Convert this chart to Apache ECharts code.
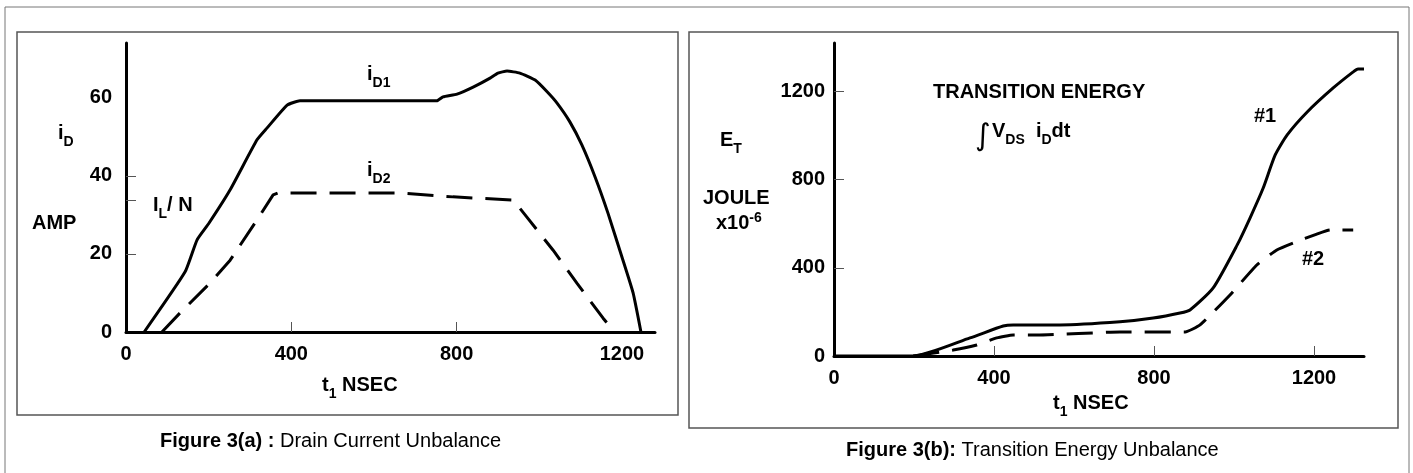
<!DOCTYPE html>
<html>
<head>
<meta charset="utf-8">
<script src="https://cdn.jsdelivr.net/npm/echarts@6/dist/echarts.min.js"></script>
<style>
html,body{margin:0;padding:0;background:#fff;}
#chart{width:1413px;height:473px;}
</style>
</head>
<body>
<div id="chart"></div>
<script>
// Figure 3(a): drain currents (A) against t1 (ns)
var tD1 = [44,143,172,201,252,317,341,390,421,752,767,801,840,881,900,922,953,990,1019,1043,1074,1103,1135,1166,1200,1227,1246];
var iD1 = [0,15.4,23.6,27.9,36.4,49.2,52.2,58.1,59.2,59.2,60.2,60.9,62.7,65.0,66.3,66.8,66.3,64.5,61.5,58.6,53.8,47.9,39.7,30.5,19.2,10.0,0];
var tD2 = [87,131,203,252,317,356,368,663,791,937,970,1033,1091,1154,1178];
var iD2 = [0,4.9,12.5,18.4,28.7,35.1,35.6,35.6,34.6,33.8,29.4,21.0,12.5,3.6,0.5];
// Figure 3(b): transition energy (joule x10^-6) against t1 (ns)
var tE1 = [0,198,340,423,448,565,715,798,865,890,948,1008,1040,1073,1103,1133,1183,1248,1298,1310,1325];
var e1  = [0,0,82,136,141,141,155,172,195,209,309,504,626,762,912,1003,1107,1216,1289,1302,1302];
var tE2 = [198,298,357,407,448,507,715,878,915,990,1057,1107,1148,1207,1240,1298];
var e2  = [0,27,50,82,95,95,109,109,141,277,413,481,513,553,572,572];
// axis marks
var xLabelsA = [0,400,800,1200];
var xTicksA = [400,800];
var yLabelsA = [0,20,40,60];
var yTicksA = [20,33.8,40];
var xLabelsB = [0,400,800,1200];
var xTicksB = [400,800,1200];
var yLabelsB = [0,400,800,1200];
var yTicksB = [400,800,1200];

var F = 'Liberation Sans';
var DASH = [26,13];

function pairs(xs, ys){
    var out = [];
    for(var i = 0;i < xs.length;i++) out.push([xs[i], ys[i]]);
    return out;
}

var RICH = {
    b:   {fontSize:20, fontWeight:'bold', fontFamily:F, lineHeight:26, verticalAlign:'top'},
    s:   {fontSize:14, fontWeight:'bold', fontFamily:F, lineHeight:26, verticalAlign:'bottom'},
    bl:  {fontSize:20, fontWeight:'bold', fontFamily:F, lineHeight:22, verticalAlign:'bottom'},
    sup: {fontSize:14, fontWeight:'bold', fontFamily:F, lineHeight:22, verticalAlign:'top'},
    r:   {fontSize:20, fontWeight:'normal', fontFamily:F, lineHeight:26, verticalAlign:'top'}
};

// text placed by its left edge and top of line box
function label(x, y, str){
    return {type:'text', x:x, y:y, z:10,
        style:{text:str, rich:RICH, fill:'#000', font:'bold 20px ' + F, verticalAlign:'top'}};
}

function plain(v){ return String(v); }

function axisX(idx, max, labels, ticks){
    return {type:'value', gridIndex:idx, min:0, max:max,
        axisLine:{lineStyle:{color:'#000', width:3}},
        axisTick:{show:true, inside:true, length:10, customValues:ticks, lineStyle:{color:'#555', width:1}},
        axisLabel:{customValues:labels, formatter:plain, margin:12, color:'#000', fontSize:20, fontWeight:'bold', fontFamily:F},
        splitLine:{show:false}};
}
function axisY(idx, max, labels, ticks, margin){
    return {type:'value', gridIndex:idx, min:0, max:max,
        axisLine:{show:true, lineStyle:{color:'#000', width:3}},
        axisTick:{show:true, inside:true, length:10, customValues:ticks, lineStyle:{color:'#555', width:1}},
        axisLabel:{customValues:labels, formatter:plain, margin:margin, color:'#000', fontSize:20, fontWeight:'bold', fontFamily:F},
        splitLine:{show:false}};
}
function curve(xi, xs, ys, dashed, sm){
    return {type:'line', xAxisIndex:xi, yAxisIndex:xi, data:pairs(xs, ys),
        showSymbol:false, symbol:'none', smooth:sm, silent:true,
        lineStyle:{color:'#000', width:3, type:dashed ? DASH : 'solid'}};
}

var chart = echarts.init(document.getElementById('chart'));
chart.setOption({
    animation:false,
    backgroundColor:'#fff',
    grid:[
        {left:126, top:43, width:529, height:289, outerBoundsMode:'none'},
        {left:834, top:43, width:530, height:313, outerBoundsMode:'none'}
    ],
    xAxis:[axisX(0, 1280, xLabelsA, xTicksA), axisX(1, 1325, xLabelsB, xTicksB)],
    yAxis:[axisY(0, 74, yLabelsA, yTicksA, 14), axisY(1, 1420, yLabelsB, yTicksB, 9)],
    series:[
        curve(0, tD1, iD1, false, 0.15),
        curve(0, tD2, iD2, true, false),
        curve(1, tE1, e1, false, 0.2),
        curve(1, tE2, e2, true, 0.15)
    ],
    graphic:[
        /*frames*/
        {type:'rect', shape:{x:5, y:7, width:1404, height:520}, style:{fill:'none', stroke:'#777', lineWidth:1}},
        {type:'rect', shape:{x:17, y:32, width:661, height:383}, style:{fill:'none', stroke:'#555', lineWidth:1.5}},
        {type:'rect', shape:{x:689, y:32, width:709, height:396}, style:{fill:'none', stroke:'#555', lineWidth:1.5}},
        /*left panel texts*/
        label(58, 123, '{b|i}{s|D}'),
        label(32, 213, '{b|AMP}'),
        label(153, 195, '{b|I}{s|L}{b|/ N}'),
        label(367, 64, '{b|i}{s|D1}'),
        label(367, 160, '{b|i}{s|D2}'),
        label(322, 375, '{b|t}{s|1}{b| NSEC}'),
        label(160, 431, '{b|Figure 3(a) :}{r| Drain Current Unbalance}'),
        /*right panel texts*/
        label(720, 130, '{b|E}{s|T}'),
        label(703, 188, '{b|JOULE}'),
        label(716, 211, '{bl|x10}{sup|-6}'),
        label(933, 82, '{b|TRANSITION ENERGY}'),
        {type:'text', x:975, y:122, z:10, style:{text:'\u222B', fill:'#000', font:'normal 30px DejaVu Sans', verticalAlign:'top'}},
        label(992, 121, '{b|V}{s|DS}{b|  i}{s|D}{b|dt}'),
        label(1254, 106, '{b|#1}'),
        label(1302, 249, '{b|#2}'),
        label(1053, 393, '{b|t}{s|1}{b| NSEC}'),
        label(846, 440, '{b|Figure 3(b):}{r| Transition Energy Unbalance}')
    ]
});
</script>
</body>
</html>
